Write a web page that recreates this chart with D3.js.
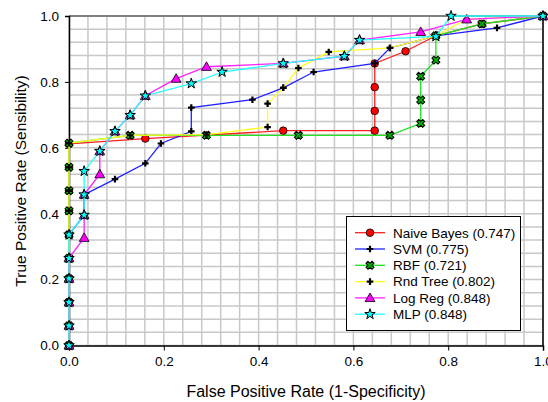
<!DOCTYPE html>
<html>
<head>
<meta charset="utf-8">
<script src="https://cdn.jsdelivr.net/npm/d3@7/dist/d3.min.js"></script>
<style>
  html, body { margin: 0; padding: 0; background: #fff; }
  svg { display: block; font-family: "Liberation Sans", Arial, sans-serif; }
</style>
</head>
<body>
<svg id="chart" width="548" height="402"></svg>
<script>
// ---- data ----
const seriesNames = ["Naive Bayes (0.747)", "SVM (0.775)", "RBF (0.721)", "Rnd Tree (0.802)", "Log Reg (0.848)", "MLP (0.848)"];

const nbX  = [0,0,0,0,0,0,0,0,0,0, 0.161, 0.452, 0.645, 0.645, 0.645, 0.645, 0.710, 0.774, 0.871, 1];
const nbY  = [0,0.060,0.131,0.203,0.265,0.336,0.409,0.470,0.541,0.612, 0.628, 0.652, 0.652, 0.712, 0.784, 0.856, 0.893, 0.940, 0.976, 1];

const svmX = [0,0,0,0,0,0, 0.032, 0.032, 0.097, 0.161, 0.194, 0.258, 0.258, 0.387, 0.452, 0.516, 0.645, 0.677, 0.774, 0.903, 1];
const svmY = [0,0.060,0.131,0.203,0.265,0.336, 0.396, 0.458, 0.505, 0.553, 0.613, 0.650, 0.722, 0.746, 0.782, 0.830, 0.856, 0.903, 0.940, 0.964, 1];

const rbfX = [0,0,0,0,0,0,0,0,0,0, 0.129, 0.290, 0.484, 0.677, 0.742, 0.742, 0.742, 0.774, 0.774, 0.871, 1];
const rbfY = [0,0.060,0.131,0.203,0.265,0.336,0.409,0.470,0.541,0.614, 0.638, 0.638, 0.638, 0.638, 0.674, 0.745, 0.817, 0.866, 0.940, 0.976, 1];

const rtX  = [0,0,0,0,0,0,0,0,0,0, 0.129, 0.290, 0.419, 0.419, 0.452, 0.484, 0.548, 0.677, 0.774, 0.839, 1];
const rtY  = [0,0.060,0.131,0.203,0.265,0.336,0.409,0.470,0.541,0.614, 0.638, 0.640, 0.663, 0.734, 0.782, 0.842, 0.891, 0.903, 0.940, 0.990, 1];

const lrX  = [0,0,0,0,0, 0.032, 0.032, 0.032, 0.065, 0.065, 0.097, 0.129, 0.161, 0.226, 0.290, 0.452, 0.581, 0.613, 0.742, 0.839, 1];
const lrY  = [0,0.060,0.131,0.203,0.265, 0.327, 0.396, 0.458, 0.520, 0.590, 0.650, 0.699, 0.758, 0.810, 0.846, 0.856, 0.878, 0.927, 0.952, 0.990, 1];

const mlpX = [0,0,0,0,0,0, 0.032, 0.032, 0.032, 0.065, 0.097, 0.129, 0.161, 0.258, 0.323, 0.452, 0.581, 0.613, 0.774, 0.806, 1];
const mlpY = [0,0.060,0.131,0.203,0.265,0.336, 0.396, 0.458, 0.529, 0.590, 0.650, 0.699, 0.758, 0.795, 0.830, 0.856, 0.878, 0.927, 0.938, 1.000, 1];

const tickValues = [0, 0.2, 0.4, 0.6, 0.8, 1.0];
const xTitle = "False Positive Rate (1-Specificity)";
const yTitle = "True Positive Rate (Sensibility)";

// ---- styles ----
const styles = [
  { line: "#ff2020", type: "circle", fill: "#ff0000", stroke: "#000" },
  { line: "#2020ff", type: "plus",   fill: "#000",    stroke: "none" },
  { line: "#20e020", type: "x",      fill: "#00b000", stroke: "#000" },
  { line: "#ffff20", type: "plus",   fill: "#000",    stroke: "none" },
  { line: "#ff20ff", type: "tri",    fill: "#ff00ff", stroke: "#000" },
  { line: "#20ffff", type: "star",   fill: "#00ffff", stroke: "#000" }
];
const xs = [nbX, svmX, rbfX, rtX, lrX, mlpX];
const ys = [nbY, svmY, rbfY, rtY, lrY, mlpY];
const series = seriesNames.map((name, i) => ({
  name, style: styles[i],
  pts: xs[i].map((x, j) => ({ x, y: ys[i][j] }))
}));

const svg = d3.select("#chart");
const x = d3.scaleLinear().domain([0, 1]).range([69, 543]);
const y = d3.scaleLinear().domain([0, 1]).range([345.5, 16]);

// grid
const gridVals = d3.range(0, 1.0001, 0.04);
const grid = svg.append("g");
grid.selectAll("line.v").data(gridVals).join("line")
  .attr("x1", d => x(d)).attr("x2", d => x(d))
  .attr("y1", y(0)).attr("y2", y(1))
  .attr("stroke", "#c8c8c8").attr("stroke-width", 1.5);
grid.selectAll("line.h").data(gridVals).join("line")
  .attr("x1", x(0)).attr("x2", x(1))
  .attr("y1", d => y(d)).attr("y2", d => y(d))
  .attr("stroke", "#c8c8c8").attr("stroke-width", 1.5);

// frame: top & right
svg.append("line").attr("x1", x(0)).attr("x2", x(1)).attr("y1", y(1)).attr("y2", y(1))
  .attr("stroke", "#808080").attr("stroke-width", 2);
svg.append("line").attr("x1", x(1)).attr("x2", x(1)).attr("y1", y(0)).attr("y2", y(1))
  .attr("stroke", "#000").attr("stroke-width", 1.5);

// axes
const xAxis = d3.axisBottom(x).tickValues(tickValues).tickFormat(d3.format(".1f")).tickSizeOuter(0).tickSize(5).tickPadding(6);
const yAxis = d3.axisLeft(y).tickValues(tickValues).tickFormat(d3.format(".1f")).tickSizeOuter(0).tickSize(4).tickPadding(6);
const gx = svg.append("g").attr("transform", `translate(0,${y(0)})`).call(xAxis);
const gy = svg.append("g").attr("transform", `translate(${x(0)},0)`).call(yAxis);
[gx, gy].forEach(g => {
  g.select(".domain").attr("stroke", "#000").attr("stroke-width", 1.5);
  g.selectAll(".tick line").attr("stroke", "#000").attr("stroke-width", 1);
  g.selectAll(".tick text").attr("font-size", 13.5).attr("fill", "#000")
    .attr("font-family", "Liberation Sans, Arial, sans-serif");
});

// titles
svg.append("text").attr("x", 306).attr("y", 397).attr("text-anchor", "middle")
  .attr("font-size", 16).text(xTitle);
svg.append("text").attr("transform", `translate(26,181) rotate(-90)`).attr("text-anchor", "middle")
  .attr("font-size", 15.5).text(yTitle);

// marker factory
function marker(g, st) {
  if (st.type === "circle") {
    g.append("circle").attr("r", 3.8).attr("fill", st.fill).attr("stroke", st.stroke).attr("stroke-width", 0.8);
  } else if (st.type === "plus") {
    g.append("path").attr("d", d3.symbol(d3.symbolCross, 24)()).attr("fill", st.fill);
  } else if (st.type === "x") {
    g.append("path").attr("d", d3.symbol(d3.symbolCross, 40)()).attr("transform", "rotate(45)")
      .attr("fill", st.fill).attr("stroke", st.stroke).attr("stroke-width", 1);
  } else if (st.type === "tri") {
    g.append("path").attr("d", d3.symbol(d3.symbolTriangle, 42)()).attr("transform", "translate(0,0.8)")
      .attr("fill", st.fill).attr("stroke", st.stroke).attr("stroke-width", 0.8);
  } else if (st.type === "star") {
    g.append("path").attr("d", d3.symbol(d3.symbolStar, 34)())
      .attr("fill", st.fill).attr("stroke", st.stroke).attr("stroke-width", 1);
  }
}

// series
const line = d3.line().x(d => x(d.x)).y(d => y(d.y));
series.forEach(s => {
  const g = svg.append("g");
  g.append("path").attr("d", line(s.pts)).attr("fill", "none")
    .attr("stroke", s.style.line).attr("stroke-width", 1.3);
  g.selectAll("g.m").data(s.pts).join("g")
    .attr("transform", d => `translate(${x(d.x)},${y(d.y)})`)
    .each(function () { marker(d3.select(this), s.style); });
});

// legend
const lg = svg.append("g");
lg.append("rect").attr("x", 346.5).attr("y", 216.5).attr("width", 174).attr("height", 114)
  .attr("fill", "#fff").attr("stroke", "#000").attr("stroke-width", 1);
series.forEach((s, i) => {
  const cy = 232.7 + i * 16.3;
  lg.append("line").attr("x1", 355).attr("x2", 385).attr("y1", cy).attr("y2", cy)
    .attr("stroke", s.style.line).attr("stroke-width", 1.3);
  const m = lg.append("g").attr("transform", `translate(370,${cy})`);
  marker(m, s.style);
  lg.append("text").attr("x", 393).attr("y", cy + 4.8).attr("font-size", 13.5).text(s.name);
});
</script>
</body>
</html>
